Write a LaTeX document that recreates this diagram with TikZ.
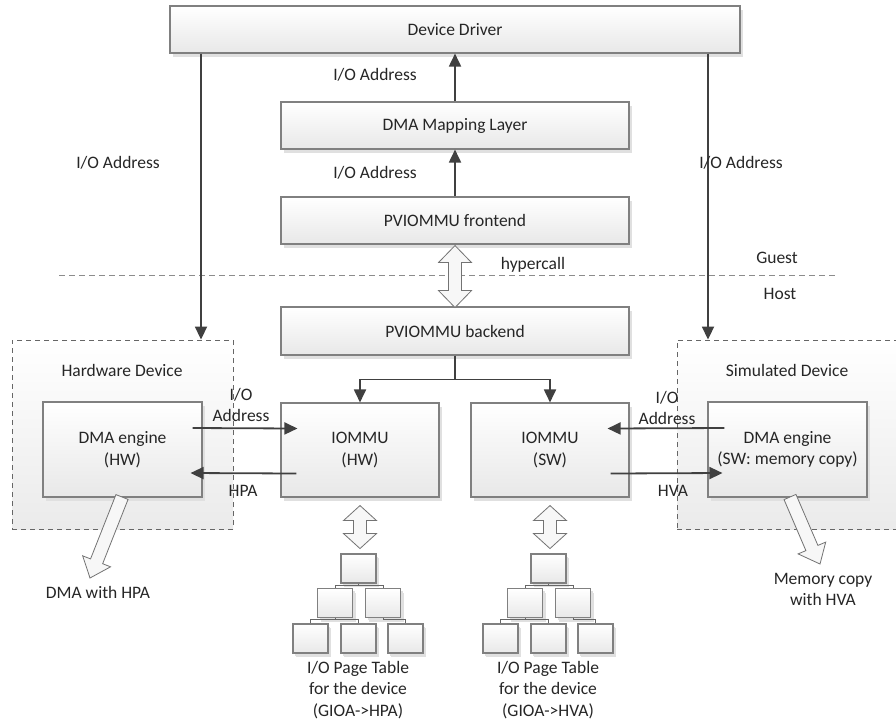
\documentclass[tikz,border=0pt]{standalone}
\usepackage{fontspec}
\setmainfont{Carlito}
\usetikzlibrary{arrows.meta,shadows,calc}

% vertical hollow double arrow: start anchor, offset below it, total length, head length
\newcommand{\hollowvd}[4]{%
  \draw[hollow] ($#1+(0,#2)$) -- ++(16.5,#4) -- ++(-10,0) -- ++(0,{#3-2*#4})
    -- ++(10,0) -- ++(-16.5,#4) -- ++(-16.5,-#4) -- ++(10,0)
    -- ++(0,{2*#4-#3}) -- ++(-10,0) -- cycle;}

\begin{document}
\begin{tikzpicture}[x=1pt,y=-1pt,
  font=\fontsize{17.5}{21.5}\selectfont,
  every node/.style={text=black!85},
  box/.style={draw=black!50, line width=1.1pt, top color=white, bottom color=black!9,
    drop shadow={shadow xshift=3pt, shadow yshift=-4pt, fill=black!12, opacity=1},
    align=center, inner sep=2pt},
  leaf/.style={box, minimum width=35, minimum height=29,
    drop shadow={shadow xshift=2pt, shadow yshift=-2.5pt, fill=black!12, opacity=1}},
  group/.style={draw=black!60, line width=0.9pt, dash pattern=on 5pt off 4pt,
    top color=white, bottom color=black!8},
  arr/.style={draw=black!75, line width=1.8pt, -{Triangle[length=13pt,width=12pt]}},
  tree/.style={draw=black!60, line width=0.8pt},
  hollow/.style={draw=black!55, line width=0.8pt, fill=black!3, line join=miter},
  lbl/.style={align=center, inner sep=0pt}]

\clip (0,0) rectangle (896,724);
\fill[white] (0,0) rectangle (896,724);

% Guest / Host boundary
\draw[draw=black!45, line width=0.8pt, dash pattern=on 6pt off 4pt] (59,275) -- (835,275);
\node[lbl] (guest) at (777,258) {Guest};
\node[lbl] (host) at (780,294) {Host};

% device groups
\node[group, minimum width=221, minimum height=189] (hwdev) at (122.5,434.5) {};
\node[group, minimum width=228, minimum height=189] (simdev) at (791,434.5) {};
\node[lbl] (hwdevlbl) at (122,370) {Hardware Device};
\node[lbl] (simdevlbl) at (787,370) {Simulated Device};

% guest stack
\node[box, minimum width=570, minimum height=47] (dd) at (455,29.5) {Device Driver};
\node[box, minimum width=348, minimum height=47] (dml) at (455,125.5) {DMA Mapping Layer};
\node[box, minimum width=348, minimum height=47] (fe) at (455,220.5) {PVIOMMU frontend};

% host side
\node[box, minimum width=348, minimum height=48] (be) at (455,331) {PVIOMMU backend};
\node[box, minimum width=158, minimum height=94] (iohw) at (360,450) {IOMMU\\(HW)};
\node[box, minimum width=158, minimum height=94] (iosw) at (550,450) {IOMMU\\(SW)};
\node[box, minimum width=159, minimum height=95] (dmahw) at (122.5,449.5) {DMA engine\\(HW)};
\node[box, minimum width=159, minimum height=95] (dmasw) at (787.5,449.5) {DMA engine\\(SW: memory copy)};

% address flow in the guest
\draw[arr] (dml.north) -- (dd.south);
\draw[arr] (fe.north) -- (dml.south);
\node[lbl] (ioa1) at (375,75) {I/O Address};
\node[lbl] (ioa2) at (375,173) {I/O Address};

% driver to devices
\coordinate (lx) at (201,0);
\coordinate (rx) at (708,0);
\draw[arr] (dd.south -| lx) -- (hwdev.north -| lx);
\draw[arr] (dd.south -| rx) -- (simdev.north -| rx);
\node[lbl] (ioa3) at (118,163) {I/O Address};
\node[lbl] (ioa4) at (741,163) {I/O Address};

% hypercall
\hollowvd{(fe.south)}{1}{62}{17}
\node[lbl] (hyper) at (533,265) {hypercall};

% backend to the two IOMMUs
\draw[arr] (be.south) -- ++(0,24) -| (iohw.north);
\draw[arr] (be.south) -- ++(0,24) -| (iosw.north);

% hardware DMA engine <-> IOMMU (HW)
\draw[arr] ([xshift=-10pt,yshift=21.5pt]dmahw.east) -- ([xshift=17pt,yshift=21.5pt]iohw.west);
\draw[arr] ([xshift=16pt,yshift=-23.5pt]iohw.west) -- ([xshift=-12pt,yshift=-23.5pt]dmahw.east);
\node[lbl] (hwio) at (241,405) {I/O\\Address};
\node[lbl] (hpa) at (243,491) {HPA};

% simulated DMA engine <-> IOMMU (SW)
\draw[arr] ([xshift=17pt,yshift=21.5pt]dmasw.west) -- ([xshift=-22pt,yshift=21.5pt]iosw.east);
\draw[arr] ([xshift=-19pt,yshift=-23.5pt]iosw.east) -- ([xshift=15pt,yshift=-23.5pt]dmasw.west);
\node[lbl] (swio) at (667,408) {I/O\\Address};
\node[lbl] (hva) at (673,491) {HVA};

% outgoing DMA accesses
\draw[hollow] (128.05,499.4) -- (102.65,563.7) -- (110.55,566.8) -- (90,578)
  -- (82.65,555.8) -- (90.55,558.9) -- (115.95,494.6) -- cycle;
\node[lbl] (dmahpa) at (98,592) {DMA with HPA};
\draw[hollow] (795.97,494.4) -- (817.9,545.4) -- (825.7,542.1) -- (820,564)
  -- (798.1,553.9) -- (805.9,550.6) -- (784.03,499.6) -- cycle;
\node[lbl] (memcp) at (823,589.5) {Memory copy\\with HVA};

% page table of IOMMU (HW)
\hollowvd{(iohw.south)}{8}{43}{15}
\node[leaf] (ha) at (358.5,568.5) {};
\node[leaf] (hb) at (335,603) {};
\node[leaf] (hc) at (383,603) {};
\node[leaf] (hd) at (310.5,638.5) {};
\node[leaf] (he) at (358.5,638.5) {};
\node[leaf] (hf) at (405.5,638.5) {};
\draw[tree] (ha.south) -- ++(0,2);
\draw[tree] (hb.north) |- ($(ha.south)+(0,2)$) -| (hc.north);
\draw[tree] (hb.south) -- ++(0,1.5);
\draw[tree] (hd.north) |- ($(hb.south)+(0,1.5)$) -| (he.north);
\draw[tree] (hc.south) -- ++(0,1.5) -| (hf.north);
\node[lbl] (hwpt) at (358,690) {I/O Page Table\\for the device\\(GIOA->HPA)};

% page table of IOMMU (SW)
\hollowvd{(iosw.south)}{8}{43}{15}
\node[leaf] (sa) at (548.5,568.5) {};
\node[leaf] (sb) at (525,603) {};
\node[leaf] (sc) at (573,603) {};
\node[leaf] (sd) at (500.5,638.5) {};
\node[leaf] (se) at (548.5,638.5) {};
\node[leaf] (sf) at (595.5,638.5) {};
\draw[tree] (sa.south) -- ++(0,2);
\draw[tree] (sb.north) |- ($(sa.south)+(0,2)$) -| (sc.north);
\draw[tree] (sb.south) -- ++(0,1.5);
\draw[tree] (sd.north) |- ($(sb.south)+(0,1.5)$) -| (se.north);
\draw[tree] (sc.south) -- ++(0,1.5) -| (sf.north);
\node[lbl] (swpt) at (548,690) {I/O Page Table\\for the device\\(GIOA->HVA)};
\end{tikzpicture}
\end{document}
